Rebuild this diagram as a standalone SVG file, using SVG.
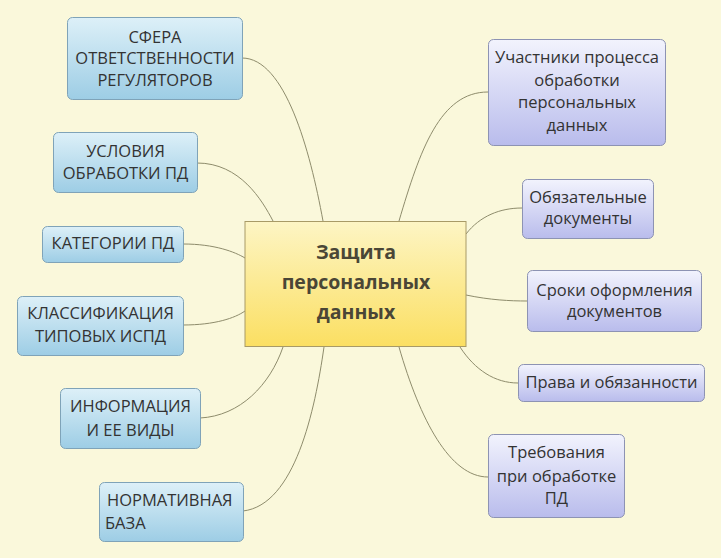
<svg xmlns="http://www.w3.org/2000/svg" width="721" height="558" viewBox="0 0 721 558">
<defs>
<linearGradient id="gBlue" x1="0" y1="0" x2="0" y2="1"><stop offset="0" stop-color="#DDF0F8"/><stop offset="1" stop-color="#9DCDE5"/></linearGradient>
<linearGradient id="gLav" x1="0" y1="0" x2="0" y2="1"><stop offset="0" stop-color="#F2F3FD"/><stop offset="1" stop-color="#B9BCEC"/></linearGradient>
<linearGradient id="gYel" x1="0" y1="0" x2="0" y2="1"><stop offset="0" stop-color="#FDF5C4"/><stop offset="1" stop-color="#FBDF62"/></linearGradient>
<style>
.bl{fill:url(#gBlue);stroke:#7FA3B8;stroke-width:1}
.lv{fill:url(#gLav);stroke:#8D93B3;stroke-width:1}
.t{font-family:"Open Sans","Noto Sans",sans-serif;font-size:16.5px;fill:#333;text-anchor:middle}
.tl{text-anchor:start}
.c{font-family:"Open Sans","Noto Sans",sans-serif;font-size:19.5px;font-weight:bold;fill:#4A4636;text-anchor:middle}
.ln{fill:none;stroke:#8E8C6C;stroke-width:1}
</style>
</defs>
<rect width="721" height="558" fill="#FAF8DB"/>
<g id="connectors">
<path class="ln" d="M242,58 C285,58 310,150 323,221"/>
<path class="ln" d="M197,163 C240,163 262,200 273,221"/>
<path class="ln" d="M183,244 C215,244 235,252 245,258"/>
<path class="ln" d="M183,325 C215,325 235,318 245,311"/>
<path class="ln" d="M200,418 C240,416 270,385 283,347"/>
<path class="ln" d="M243,511 C295,505 315,410 324,347"/>
<path class="ln" d="M399,221 C420,150 440,92 488,92"/>
<path class="ln" d="M466,234 C480,216 500,208 522,208"/>
<path class="ln" d="M466,295 C490,300 510,301 527,301"/>
<path class="ln" d="M460,347 C475,370 495,383 518,383"/>
<path class="ln" d="M399,347 C420,420 450,477 488,477"/>
</g>
<g id="center">
<rect x="245" y="221.5" width="221" height="125" fill="url(#gYel)" stroke="#A89A66"/>
<text class="c" x="356" y="259">Защита</text>
<text class="c" x="356" y="289">персональных</text>
<text class="c" x="356" y="319">данных</text>
</g>
<g id="n-sfera">
<rect class="bl" x="67.5" y="17.5" width="175" height="82" rx="5"/>
<text class="t" x="155" y="43">СФЕРА</text>
<text class="t" x="155" y="64">ОТВЕТСТВЕННОСТИ</text>
<text class="t" x="155" y="86">РЕГУЛЯТОРОВ</text>
</g>
<g id="n-usloviya">
<rect class="bl" x="53.5" y="132.5" width="144" height="60" rx="5"/>
<text class="t" x="125.5" y="157">УСЛОВИЯ</text>
<text class="t" x="125.5" y="179">ОБРАБОТКИ ПД</text>
</g>
<g id="n-kategorii">
<rect class="bl" x="42.5" y="226.5" width="141" height="36" rx="5"/>
<text class="t" x="113" y="249">КАТЕГОРИИ ПД</text>
</g>
<g id="n-klass">
<rect class="bl" x="17.5" y="296.5" width="166" height="59" rx="5"/>
<text class="t" x="100.5" y="319">КЛАССИФИКАЦИЯ</text>
<text class="t" x="100.5" y="342">ТИПОВЫХ ИСПД</text>
</g>
<g id="n-info">
<rect class="bl" x="60.5" y="388.5" width="140" height="60" rx="5"/>
<text class="t" x="130.5" y="412">ИНФОРМАЦИЯ</text>
<text class="t" x="130.5" y="436">И ЕЕ ВИДЫ</text>
</g>
<g id="n-norm">
<rect class="bl" x="99.5" y="482.5" width="144" height="59" rx="5"/>
<text class="t tl" x="107" y="506">НОРМАТИВНАЯ</text>
<text class="t tl" x="105" y="529">БАЗА</text>
</g>
<g id="n-uchastniki">
<rect class="lv" x="488.5" y="39.5" width="177" height="106" rx="5"/>
<text class="t" x="577" y="63">Участники процесса</text>
<text class="t" x="577" y="86">обработки</text>
<text class="t" x="577" y="108">персональных</text>
<text class="t" x="577" y="131">данных</text>
</g>
<g id="n-obyaz">
<rect class="lv" x="522.5" y="179.5" width="131" height="59" rx="5"/>
<text class="t" x="588" y="203">Обязательные</text>
<text class="t" x="588" y="224">документы</text>
</g>
<g id="n-sroki">
<rect class="lv" x="527.5" y="270.5" width="174" height="61" rx="5"/>
<text class="t" x="614.5" y="296">Сроки оформления</text>
<text class="t" x="614.5" y="317">документов</text>
</g>
<g id="n-prava">
<rect class="lv" x="518.5" y="364.5" width="186" height="37" rx="5"/>
<text class="t" x="611.5" y="388">Права и обязанности</text>
</g>
<g id="n-treb">
<rect class="lv" x="488.5" y="434.5" width="136" height="83" rx="5"/>
<text class="t" x="556.5" y="458">Требования</text>
<text class="t" x="556.5" y="482">при обработке</text>
<text class="t" x="556.5" y="504">ПД</text>
</g>
</svg>
